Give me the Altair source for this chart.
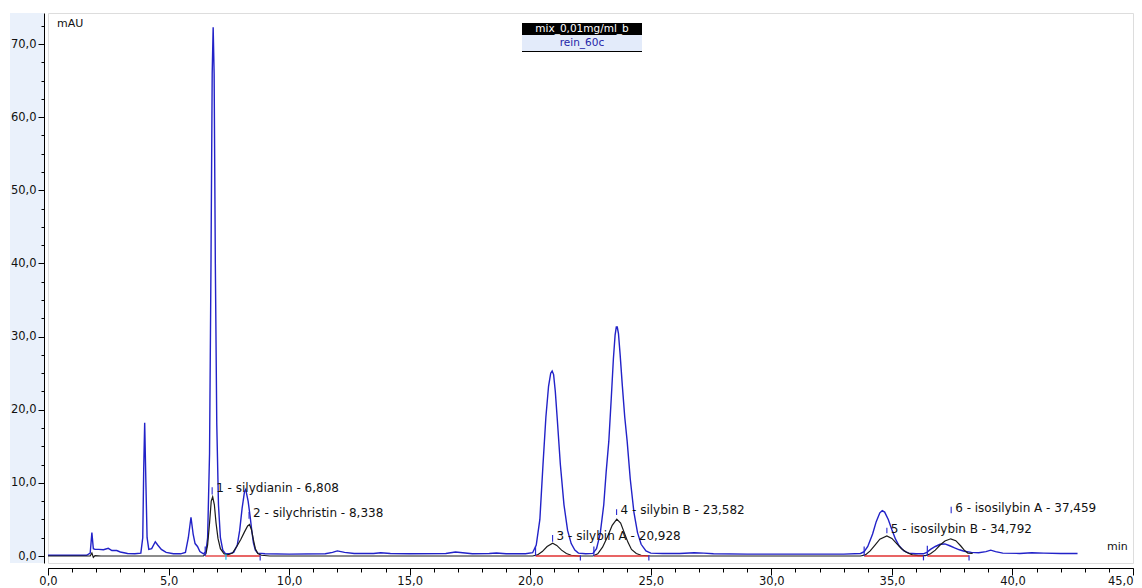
import altair as alt
import pandas as pd

# ---------------- data ----------------
# rein_60c (blue trace): retention time [min], absorbance [mAU]
blue_t = [0.0, 1.0, 1.6, 1.75, 1.82, 1.88, 1.95, 2.1, 2.3, 2.5, 2.65, 2.85, 3.0, 3.3, 3.6, 3.85,
          3.93, 3.97, 4.01, 4.06, 4.11, 4.18, 4.3, 4.45, 4.55, 4.7, 4.9, 5.2, 5.5, 5.7, 5.82,
          5.93, 6.02, 6.1, 6.2, 6.3, 6.45, 6.55, 6.62, 6.7, 6.76, 6.81, 6.85, 6.89, 6.94, 7.0,
          7.07, 7.15, 7.25, 7.35, 7.5, 7.7, 7.85, 7.95, 8.05, 8.15, 8.2, 8.3, 8.38, 8.45, 8.52,
          8.6, 8.7, 9.0, 10.0, 11.5, 11.8, 12.0, 12.3, 12.7, 13.5, 13.8, 14.2, 15.0, 16.5, 16.9,
          17.2, 17.6, 18.3, 18.6, 19.0, 19.8, 20.1, 20.25, 20.4, 20.53, 20.65, 20.76, 20.85,
          20.91, 20.97, 21.04, 21.12, 21.25, 21.4, 21.55, 21.7, 21.85, 22.0, 22.3, 22.6, 22.75,
          22.9, 23.05, 23.15, 23.26, 23.36, 23.45, 23.52, 23.57, 23.61, 23.66, 23.73, 23.82,
          23.92, 24.02, 24.15, 24.3, 24.45, 24.6, 24.8, 25.0, 25.5, 26.2, 26.8, 27.2, 27.6, 29.0,
          31.0, 33.0, 33.7, 33.85, 34.0, 34.2, 34.35, 34.5, 34.6, 34.7, 34.85, 35.0, 35.15, 35.3,
          35.5, 35.7, 36.0, 36.3, 36.45, 36.6, 36.8, 37.0, 37.2, 37.4, 37.6, 37.8, 38.0, 38.3,
          38.6, 38.9, 39.1, 39.3, 39.6, 40.3, 40.8, 41.3, 42.0, 42.7]
blue_v = [0.1, 0.1, 0.1, 0.4, 3.2, 1.0, 0.9, 0.9, 0.85, 1.05, 0.75, 0.75, 0.55, 0.35, 0.3, 0.4,
          2.5, 12.0, 18.2, 10.0, 2.5, 0.9, 1.0, 1.95, 1.5, 0.9, 0.5, 0.3, 0.3, 0.5, 2.5,
          5.3, 3.0, 1.7, 1.3, 0.6, 0.3, 0.6, 2.5, 14.0, 40.0, 66.0, 72.3, 66.0, 40.0, 18.0,
          7.0, 2.5, 0.8, 0.35, 0.3, 0.5, 1.5, 3.5, 6.5, 8.8, 9.1, 7.5, 5.5, 3.5, 1.8,
          0.8, 0.4, 0.3, 0.25, 0.3, 0.5, 0.7, 0.5, 0.35, 0.35, 0.45, 0.35, 0.3, 0.35, 0.55,
          0.45, 0.3, 0.35, 0.4, 0.3, 0.3, 0.45, 1.5, 5.0, 12.5, 19.0, 23.2, 25.0,
          25.3, 24.8, 22.5, 18.8, 12.5, 7.0, 3.5, 1.7, 0.8, 0.4, 0.3, 0.35, 1.0,
          3.0, 7.0, 11.5, 15.7, 21.5, 27.0, 30.2, 31.3, 31.3, 30.4, 27.5, 23.3,
          19.0, 15.7, 10.5, 6.0, 3.2, 1.6, 0.7, 0.4, 0.35, 0.35, 0.45, 0.4, 0.3, 0.25,
          0.25, 0.25, 0.35, 0.6, 1.3, 3.0, 4.7, 5.9, 6.2, 6.0, 5.0, 3.6, 2.3, 1.4,
          0.7, 0.4, 0.3, 0.3, 0.5, 0.9, 1.3, 1.6, 1.65, 1.4, 1.1, 0.85, 0.65, 0.5,
          0.45, 0.6, 0.8, 0.6, 0.4, 0.35, 0.45, 0.4, 0.35, 0.35]

# mix_0,01mg/ml_b (black trace)
black_t = [0.0, 1.75, 1.82, 1.88, 1.95, 2.2, 6.45, 6.55, 6.62, 6.7, 6.77, 6.83, 6.9, 6.97, 7.05,
           7.15, 7.3, 7.45, 7.65, 7.83, 8.0, 8.15, 8.28, 8.36, 8.44, 8.52, 8.6, 8.7, 8.85, 9.2,
           20.1, 20.3, 20.5, 20.7, 20.93, 21.1, 21.3, 21.5, 21.7, 22.0, 22.6, 22.8, 23.0, 23.2,
           23.4, 23.59, 23.75, 23.9, 24.05, 24.2, 24.4, 24.6, 25.0, 33.7, 33.9, 34.1, 34.3, 34.5,
           34.79, 35.0, 35.2, 35.4, 35.6, 35.85, 36.1, 36.4, 36.6, 36.8, 37.0, 37.2, 37.44, 37.65,
           37.85, 38.0, 38.15, 38.35]
black_v = [0.0, 0.0, 0.4, -0.2, 0.05, 0.0, 0.0, 0.3, 1.5, 4.5, 7.5, 8.1, 7.0, 4.5, 2.4,
           1.0, 0.3, 0.15, 0.4, 1.3, 2.3, 3.3, 4.1, 4.3, 3.6, 2.2, 1.0, 0.35, 0.1, 0.0,
           0.0, 0.15, 0.6, 1.3, 1.75, 1.45, 0.8, 0.35, 0.1, 0.0, 0.0, 0.3, 1.2, 2.6,
           4.2, 5.05, 4.5, 3.2, 1.9, 0.9, 0.35, 0.1, 0.0, 0.0, 0.15, 0.7, 1.5, 2.3,
           2.75, 2.4, 1.7, 1.0, 0.5, 0.15, 0.05, 0.05, 0.3, 0.8, 1.5, 2.05, 2.35, 2.1,
           1.4, 0.8, 0.4, 0.35]

# integration baselines (red)
base_start = [6.52, 7.38, 20.22, 22.64, 33.85, 36.47]
base_end = [7.38, 8.80, 22.08, 24.92, 36.31, 38.20]

# integration start / end markers
mark_t = [6.52, 7.38, 8.80, 20.22, 22.08, 22.64, 24.92, 33.85, 36.31, 36.47, 38.20]
mark_lo = [0.0, -0.5, -0.6, 0.0, -0.6, 0.0, -0.6, 0.0, -0.6, 0.0, -0.6]
mark_hi = [1.3, 0.3, 0.1, 1.3, 0.1, 1.3, 0.1, 1.3, 0.1, 1.4, 0.1]
mark_kind = ["blue", "cyan", "blue", "blue", "blue", "blue", "blue", "blue", "blue", "blue", "blue"]

# peak annotations
peak_names = ["1 - silydianin - 6,808", "2 - silychristin - 8,338", "3 - silybin A - 20,928",
              "4 - silybin B - 23,582", "5 - isosilybin B - 34,792", "6 - isosilybin A - 37,459"]
peak_t = [6.808, 8.338, 20.928, 23.582, 34.792, 37.459]
peak_tick_top = [9.4, 6.0, 2.87, 6.4, 3.87, 6.74]
peak_tick_bot = [8.4, 5.1, 1.96, 5.6, 3.1, 5.84]

y_major = [0, 10, 20, 30, 40, 50, 60, 70]
y_minor = [i * 2.5 for i in range(0, 30)]
x_major = [0, 5, 10, 15, 20, 25, 30, 35, 40, 45]
x_minor = list(range(0, 46))

# ---------------- frames ----------------
blue_df = pd.DataFrame({"t": blue_t, "v": blue_v})
black_df = pd.DataFrame({"t": black_t, "v": black_v})
base_df = pd.DataFrame({"t": base_start, "t2": base_end, "v": [0.0] * len(base_start)})
mark_df = pd.DataFrame({"t": mark_t, "lo": mark_lo, "hi": mark_hi, "kind": mark_kind})
peak_df = pd.DataFrame({"name": peak_names, "t": peak_t, "top": peak_tick_top, "bot": peak_tick_bot})
one = pd.DataFrame({"a": [0]})

W, H = 1085, 550
XDOM = [0, 45]
YDOM = [-0.957, 74.24]
xs = alt.Scale(domain=XDOM, nice=False, zero=False)
ys = alt.Scale(domain=YDOM, nice=False, zero=False)
FONT = "DejaVu Sans"
LBL = "replace(format(datum.value, '.1f'), '.', ',')"

# background strip of the y-axis panel
bg_left = alt.Chart(one).mark_rect(color="#eaf1fb").encode(
    x=alt.value(-38), x2=alt.value(-4), y=alt.value(0), y2=alt.value(H))

blue_line = alt.Chart(blue_df).mark_line(color="#2222c8", strokeWidth=1.4).encode(
    x=alt.X("t:Q", scale=xs, axis=alt.Axis(
        title=None, values=x_major, orient="bottom", offset=5, tickSize=7, tickColor="#000",
        domainColor="#000", labelExpr=LBL, labelFont=FONT, labelFontSize=11.5,
        labelColor="#111", labelPadding=0, grid=False, zindex=2, labelFlush=False,
        labelAlign={"condition": {"test": "datum.value >= 45", "value": "right"}, "value": "center"})),
    y=alt.Y("v:Q", scale=ys, axis=alt.Axis(
        title=None, values=y_major, orient="left", offset=4, tickSize=6, tickColor="#000",
        domainColor="#000", labelExpr=LBL, labelFont=FONT, labelFontSize=11.5,
        labelColor="#111", labelPadding=2, grid=False, zindex=2)),
    order="t:Q")

black_line = alt.Chart(black_df).mark_line(color="#1a1a1a", strokeWidth=1.2).encode(
    x=alt.X("t:Q", scale=xs, axis=alt.Axis(
        title=None, values=x_minor, orient="bottom", offset=5, tickSize=4, tickColor="#000",
        labels=False, domain=False, grid=False, zindex=2)),
    y=alt.Y("v:Q", scale=ys, axis=alt.Axis(
        title=None, values=y_minor, orient="left", offset=4, tickSize=3, tickColor="#000",
        labels=False, domain=False, grid=False, zindex=2)),
    order="t:Q")

baselines = alt.Chart(base_df).mark_rule(color="#e03030", strokeWidth=1.3).encode(
    x=alt.X("t:Q", scale=xs, axis=None), x2="t2:Q",
    y=alt.Y("v:Q", scale=ys, axis=None))

markers = alt.Chart(mark_df).mark_rule(strokeWidth=1.2).encode(
    x=alt.X("t:Q", scale=xs, axis=None),
    y=alt.Y("lo:Q", scale=ys, axis=None), y2="hi:Q",
    color=alt.Color("kind:N", scale=alt.Scale(domain=["blue", "cyan"], range=["#2a2ad0", "#18b8e8"]),
                    legend=None))

peak_ticks = alt.Chart(peak_df).mark_rule(color="#2a2ad0", strokeWidth=1.1).encode(
    x=alt.X("t:Q", scale=xs, axis=None),
    y=alt.Y("bot:Q", scale=ys, axis=None), y2="top:Q")

peak_text = alt.Chart(peak_df).mark_text(align="left", baseline="middle", dx=4, dy=1,
                                         font=FONT, fontSize=12, color="#111").encode(
    x=alt.X("t:Q", scale=xs, axis=None),
    y=alt.Y("top:Q", scale=ys, axis=None),
    text="name:N")

# legend box (title strip)
leg_black = alt.Chart(one).mark_rect(color="#000000").encode(
    x=alt.value(474), x2=alt.value(594), y=alt.value(10), y2=alt.value(22))
leg_blue = alt.Chart(one).mark_rect(color="#e3ebfa").encode(
    x=alt.value(474), x2=alt.value(594), y=alt.value(22), y2=alt.value(38))
leg_line = alt.Chart(one).mark_rule(color="#000000", strokeWidth=1.2).encode(
    x=alt.value(474), x2=alt.value(594), y=alt.value(38.5))
leg_t1 = alt.Chart(one).mark_text(text="mix_0,01mg/ml_b", color="#ffffff", font=FONT, fontSize=10.5,
                                  align="center", baseline="middle").encode(
    x=alt.value(534), y=alt.value(16))
leg_t2 = alt.Chart(one).mark_text(text="rein_60c", color="#1f1fa8", font=FONT, fontSize=10.5,
                                  align="center", baseline="middle").encode(
    x=alt.value(534), y=alt.value(30))

mau = alt.Chart(one).mark_text(text="mAU", color="#111", font=FONT, fontSize=11,
                               align="left", baseline="middle").encode(
    x=alt.value(9), y=alt.value(10.5))
minlbl = alt.Chart(one).mark_text(text="min", color="#111", font=FONT, fontSize=11,
                                  align="left", baseline="middle").encode(
    x=alt.value(1059), y=alt.value(534))

chart = alt.layer(
    bg_left, blue_line, black_line, baselines, markers, peak_ticks, peak_text,
    leg_black, leg_blue, leg_line, leg_t1, leg_t2, mau, minlbl
).resolve_axis(x="independent", y="independent").properties(
    width=W, height=H,
    autosize=alt.AutoSizeParams(type="none"),
    padding={"left": 40, "top": 5, "right": 1, "bottom": 26},
).configure_view(stroke="#000000", strokeWidth=1.5).configure(background="#ffffff")

chart.save("out.html", embed_options={"renderer": "svg", "actions": False})
